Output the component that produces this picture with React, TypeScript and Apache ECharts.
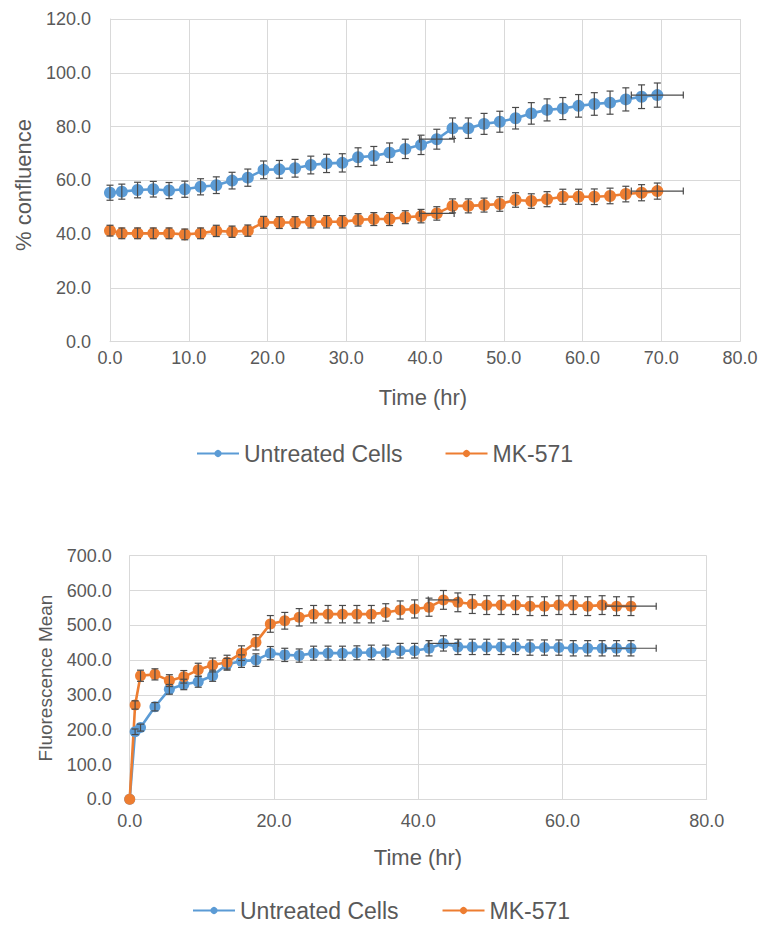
import React, { useEffect, useRef } from "react";
import * as echarts from "echarts";

// ---------- Top chart: % confluence ----------
const topTime = [0, 1.5, 3.5, 5.5, 7.5, 9.5, 11.5, 13.5, 15.5, 17.5, 19.5, 21.5, 23.5, 25.5, 27.5, 29.5, 31.5, 33.5, 35.5, 37.5, 39.5, 41.5, 43.5, 45.5, 47.5, 49.5, 51.5, 53.5, 55.5, 57.5, 59.5, 61.5, 63.5, 65.5, 67.5, 69.5];
const topUntreated = [55.4, 55.8, 56.4, 56.7, 56.2, 56.7, 57.6, 58.2, 59.9, 61.0, 63.9, 64.1, 64.5, 65.7, 66.3, 66.5, 68.6, 69.1, 70.3, 71.7, 73.2, 75.3, 79.4, 79.4, 81.0, 81.8, 83.1, 84.9, 86.2, 86.7, 87.7, 88.4, 88.9, 90.1, 91.1, 91.7];
const topUntreatedErr = [2.8, 2.8, 2.9, 2.9, 3.0, 3.0, 3.0, 3.1, 3.1, 3.2, 3.3, 3.3, 3.3, 3.3, 3.4, 3.4, 3.5, 3.5, 3.6, 3.6, 3.6, 3.7, 3.8, 3.8, 3.9, 3.9, 4.0, 4.0, 4.1, 4.1, 4.2, 4.2, 4.3, 4.3, 4.4, 4.5];
const topMK = [41.3, 40.3, 40.3, 40.3, 40.3, 39.9, 40.3, 41.2, 40.9, 41.3, 44.4, 44.3, 44.3, 44.6, 44.6, 44.6, 45.3, 45.6, 45.6, 46.3, 46.7, 47.7, 50.5, 50.5, 50.8, 51.2, 52.7, 52.3, 53.0, 53.9, 53.9, 53.9, 54.2, 54.9, 55.4, 56.0];
const topMKErr = [2.0, 2.0, 2.0, 2.0, 2.0, 2.0, 2.0, 2.1, 2.1, 2.1, 2.2, 2.2, 2.2, 2.3, 2.3, 2.3, 2.3, 2.4, 2.4, 2.4, 2.5, 2.5, 2.6, 2.6, 2.6, 2.7, 2.7, 2.7, 2.8, 2.8, 2.8, 2.9, 2.9, 2.9, 3.0, 3.0];
const topTimeErr = [0, 0, 0, 0, 0, 0, 0, 0, 0, 0, 0, 0, 0, 0, 0, 0, 0, 0, 0, 0, 0, 2.2, 0, 0, 0, 0, 0, 0, 0, 0, 0, 0, 0, 0, 0, 3.3];

// ---------- Bottom chart: Fluorescence Mean ----------
const botTime = [0, 0.75, 1.5, 3.5, 5.5, 7.5, 9.5, 11.5, 13.5, 15.5, 17.5, 19.5, 21.5, 23.5, 25.5, 27.5, 29.5, 31.5, 33.5, 35.5, 37.5, 39.5, 41.5, 43.5, 45.5, 47.5, 49.5, 51.5, 53.5, 55.5, 57.5, 59.5, 61.5, 63.5, 65.5, 67.5, 69.5];
const botUntreated = [0, 194, 206, 266, 316, 330, 338, 355, 388, 397, 400, 420, 415, 413, 420, 420, 420, 421, 422, 422, 427, 427, 434, 448, 438, 438, 438, 438, 438, 436, 436, 436, 434, 434, 434, 434, 434];
const botUntreatedErr = [0, 8, 10, 12, 14, 15, 16, 16, 17, 18, 18, 19, 19, 19, 20, 20, 20, 20, 21, 21, 21, 21, 22, 22, 22, 22, 22, 22, 22, 22, 22, 22, 22, 22, 22, 22, 22];
const botMK = [0, 271, 355, 359, 341, 352, 372, 386, 394, 420, 451, 504, 513, 523, 532, 532, 532, 532, 532, 537, 544, 547, 552, 573, 566, 561, 558, 558, 558, 555, 555, 558, 558, 555, 558, 555, 555];
const botMKErr = [0, 12, 16, 16, 17, 18, 19, 20, 20, 21, 22, 24, 24, 25, 25, 25, 25, 25, 25, 25, 26, 26, 26, 27, 27, 27, 27, 27, 27, 27, 27, 27, 27, 27, 27, 27, 27];
const botTimeErr = [0, 0, 0, 0, 0, 0, 0, 0, 0, 0, 0, 0, 0, 0, 0, 0, 0, 0, 0, 0, 0, 0, 0, 2.1, 0, 0, 0, 0, 0, 0, 0, 0, 0, 0, 0, 0, 3.5];

const seriesNames = ["Untreated Cells", "MK-571"];
const topXTicks = { min: 0, max: 80, interval: 10 };
const topYTicks = { min: 0, max: 120, interval: 20 };
const botXTicks = { min: 0, max: 80, interval: 20 };
const botYTicks = { min: 0, max: 700, interval: 100 };

const BLUE = "#5B9BD5";
const ORANGE = "#ED7D31";
const TEXT = "#595959";
const GRID = "#d9d9d9";
const ERR = "#4a4a4a";
const FONT = "Liberation Sans, Arial, sans-serif";

function lineSeries(name: string, color: string, t: number[], v: number[], idx: number, size: number) {
  return {
    name,
    type: "line",
    xAxisIndex: idx,
    yAxisIndex: idx,
    data: t.map((x, i) => [x, v[i]]),
    symbol: "circle",
    symbolSize: size,
    showSymbol: true,
    itemStyle: { color },
    lineStyle: { color, width: 2.6 },
    z: 2,
  };
}

function errSeries(t: number[], v: number[], e: number[], xe: number[], idx: number) {
  return {
    type: "custom",
    xAxisIndex: idx,
    yAxisIndex: idx,
    silent: true,
    z: 5,
    encode: { x: 0, y: 1 },
    data: t.map((x, i) => [x, v[i], e[i], xe[i]]),
    renderItem: (params: any, api: any) => {
      const x = api.value(0);
      const y = api.value(1);
      const err = api.value(2);
      const xerr = api.value(3);
      const children: any[] = [];
      const style = { stroke: ERR, lineWidth: 1.2 };
      const cap = 3.5;
      if (err > 0) {
        const lo = api.coord([x, y - err]);
        const hi = api.coord([x, y + err]);
        children.push({ type: "line", shape: { x1: lo[0], y1: lo[1], x2: hi[0], y2: hi[1] }, style });
        children.push({ type: "line", shape: { x1: lo[0] - cap, y1: lo[1], x2: lo[0] + cap, y2: lo[1] }, style });
        children.push({ type: "line", shape: { x1: hi[0] - cap, y1: hi[1], x2: hi[0] + cap, y2: hi[1] }, style });
      }
      if (xerr > 0) {
        const l = api.coord([x - xerr, y]);
        const r = api.coord([x + xerr, y]);
        children.push({ type: "line", shape: { x1: l[0], y1: l[1], x2: r[0], y2: r[1] }, style });
        children.push({ type: "line", shape: { x1: l[0], y1: l[1] - cap, x2: l[0], y2: l[1] + cap }, style });
        children.push({ type: "line", shape: { x1: r[0], y1: r[1] - cap, x2: r[0], y2: r[1] + cap }, style });
      }
      return { type: "group", children };
    },
  };
}

function valueAxis(ticks: { min: number; max: number; interval: number }, gridIndex: number, margin: number, fontSize: number) {
  return {
    type: "value",
    gridIndex,
    min: ticks.min,
    max: ticks.max,
    interval: ticks.interval,
    axisLine: { show: true, lineStyle: { color: GRID, width: 1 } },
    axisTick: { show: false },
    splitLine: { show: true, lineStyle: { color: GRID, width: 1 } },
    axisLabel: {
      color: TEXT,
      fontSize,
      fontFamily: FONT,
      margin,
      formatter: (v: number) => v.toFixed(1),
    },
  };
}

export default function App() {
  const ref = useRef<HTMLDivElement>(null);
  useEffect(() => {
    if (!ref.current) return;
    const chart = echarts.init(ref.current, null, { renderer: "svg" });
    const legendText = { color: TEXT, fontSize: 23, fontFamily: FONT };
    const option: any = {
      animation: false,
      backgroundColor: "#ffffff",
      grid: [
        { left: 110, top: 19, width: 630, height: 322.7 },
        { left: 129.7, top: 555.7, width: 577, height: 243.6 },
      ],
      xAxis: [valueAxis(topXTicks, 0, 7, 18), valueAxis(botXTicks, 1, 13, 18)],
      yAxis: [valueAxis(topYTicks, 0, 19, 18), valueAxis(botYTicks, 1, 18, 18)],
      legend: [
        {
          data: seriesNames,
          left: 191,
          top: 437,
          itemWidth: 42,
          itemHeight: 9,
          itemGap: 42,
          textStyle: legendText,
        },
        {
          data: seriesNames,
          left: 187,
          top: 894,
          itemWidth: 42,
          itemHeight: 9,
          itemGap: 43,
          textStyle: legendText,
        },
      ],
      graphic: [
        {
          type: "text",
          x: 23,
          y: 185,
          rotation: Math.PI / 2,
          style: { text: "% confluence", fill: TEXT, font: `22px ${FONT}`, align: "center", verticalAlign: "middle" },
        },
        {
          type: "text",
          x: 423,
          y: 397,
          style: { text: "Time (hr)", fill: TEXT, font: `22px ${FONT}`, align: "center", verticalAlign: "middle" },
        },
        {
          type: "text",
          x: 45,
          y: 678,
          rotation: Math.PI / 2,
          style: { text: "Fluorescence Mean", fill: TEXT, font: `19px ${FONT}`, align: "center", verticalAlign: "middle" },
        },
        {
          type: "text",
          x: 418,
          y: 857,
          style: { text: "Time (hr)", fill: TEXT, font: `22px ${FONT}`, align: "center", verticalAlign: "middle" },
        },
      ],
      series: [
        lineSeries(seriesNames[0], BLUE, topTime, topUntreated, 0, 12),
        lineSeries(seriesNames[1], ORANGE, topTime, topMK, 0, 12),
        errSeries(topTime, topUntreated, topUntreatedErr, topTimeErr, 0),
        errSeries(topTime, topMK, topMKErr, topTimeErr, 0),
        lineSeries(seriesNames[0], BLUE, botTime, botUntreated, 1, 11),
        lineSeries(seriesNames[1], ORANGE, botTime, botMK, 1, 11),
        errSeries(botTime, botUntreated, botUntreatedErr, botTimeErr, 1),
        errSeries(botTime, botMK, botMKErr, botTimeErr, 1),
      ],
    };
    chart.setOption(option);
    return () => chart.dispose();
  }, []);
  return (
    <div
      ref={ref}
      style={{ position: "fixed", left: 0, top: 0, width: 761, height: 925, background: "#fff" }}
    />
  );
}
